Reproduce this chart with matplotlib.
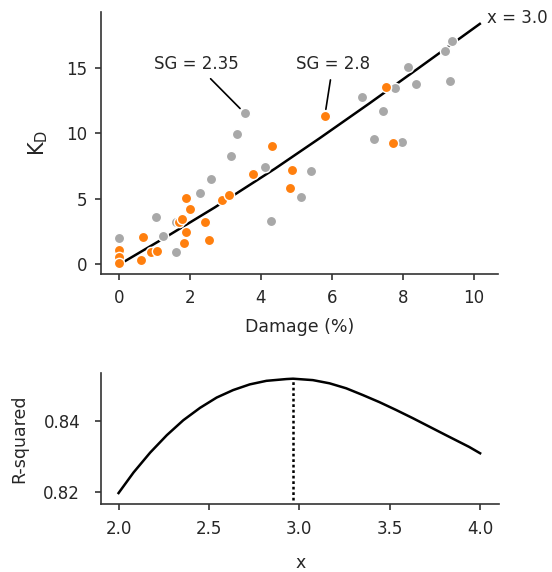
import numpy as np
import matplotlib
matplotlib.use("Agg")
import matplotlib.pyplot as plt

# specimen damage vs. K_D, split by specific gravity group
damage_grey = [0.0, 1.03, 1.23, 1.62, 1.62, 2.28, 2.58, 3.17, 3.34, 3.55, 4.11, 4.29,
               5.13, 5.42, 6.86, 7.19, 7.45, 7.77, 7.99, 8.15, 8.38, 9.20, 9.33, 9.39]
kd_grey = [1.96, 3.61, 2.11, 0.92, 3.23, 5.42, 6.51, 8.26, 9.97, 11.52, 7.45, 3.31,
           5.09, 7.09, 12.81, 9.53, 11.70, 13.50, 9.33, 15.08, 13.78, 16.30, 13.98, 17.03]

damage_orange = [0.0, 0.0, 0.0, 0.69, 0.62, 0.89, 1.06, 1.70, 1.78, 1.89, 2.00, 1.89,
                 1.83, 2.42, 2.54, 2.89, 3.11, 3.77, 4.30, 4.82, 4.87, 5.80, 7.53, 7.71]
kd_orange = [1.04, 0.51, 0.10, 2.06, 0.31, 0.89, 0.99, 3.25, 3.42, 5.03, 4.20, 2.44,
             1.60, 3.20, 1.86, 4.93, 5.29, 6.89, 9.03, 5.85, 7.17, 11.31, 13.55, 9.23]

# fitted curve for exponent x = 3.0
fit_damage = [0.17, 1.34, 2.70, 4.40, 5.66, 7.07, 8.39, 10.17]
fit_kd = [0.22, 2.09, 4.33, 7.30, 9.63, 12.31, 14.88, 18.37]

# goodness of fit against exponent
exponent = [2.0, 2.083, 2.175, 2.267, 2.358, 2.451, 2.543, 2.634, 2.726, 2.818, 2.929,
            2.965, 3.075, 3.167, 3.259, 3.351, 3.443, 3.535, 3.627, 3.719, 3.811, 3.939, 4.0]
r_squared = [0.8197, 0.8255, 0.8311, 0.8360, 0.8402, 0.8437, 0.8466, 0.8487, 0.8503, 0.8513, 0.8518,
             0.8519, 0.8515, 0.8506, 0.8492, 0.8473, 0.8453, 0.8431, 0.8408, 0.8384, 0.8360, 0.8327, 0.8309]

GREY = "#a8a8a8"
ORANGE = "#ff7f0e"
INK = "#262626"

plt.rcParams.update({
    "font.family": "DejaVu Sans",
    "font.size": 12,
    "axes.edgecolor": "#333333",
    "axes.linewidth": 1.2,
    "xtick.color": "#333333",
    "ytick.color": "#333333",
    "xtick.labelcolor": INK,
    "ytick.labelcolor": INK,
    "xtick.major.size": 4,
    "ytick.major.size": 4,
    "xtick.major.width": 1.2,
    "ytick.major.width": 1.2,
    "xtick.labelsize": 12,
    "ytick.labelsize": 12,
})

fig = plt.figure(figsize=(5.52, 5.72), dpi=100)

ax = fig.add_axes([0.183, 0.521, 0.719, 0.4585])
ax.plot(fit_damage, fit_kd, color="black", lw=1.8, zorder=2)
ax.scatter(damage_grey, kd_grey, s=55, color=GREY, edgecolor="white", linewidth=1, zorder=3)
ax.scatter(damage_orange, kd_orange, s=55, color=ORANGE, edgecolor="white", linewidth=1, zorder=4)

ax.annotate("SG = 2.35", xy=(3.55, 11.52), xytext=(2.17, 15.3),
            ha="center", va="center", fontsize=12, color=INK,
            arrowprops=dict(arrowstyle="-", color="black", lw=1.2, shrinkA=3, shrinkB=5))
ax.annotate("SG = 2.8", xy=(5.80, 11.31), xytext=(6.03, 15.3),
            ha="center", va="center", fontsize=12, color=INK,
            arrowprops=dict(arrowstyle="-", color="black", lw=1.2, shrinkA=3, shrinkB=5))
ax.text(10.37, 18.85, "x = 3.0", ha="left", va="center", fontsize=12, color=INK, clip_on=False)

ax.set_xlim(-0.507, 10.68)
ax.set_ylim(-0.765, 19.3)
ax.set_xticks([0, 2, 4, 6, 8, 10])
ax.set_yticks([0, 5, 10, 15])
ax.tick_params(axis="x", pad=6.5)
ax.tick_params(axis="y", pad=5.8)
ax.set_xlabel("Damage (%)", fontsize=12.5, color=INK, labelpad=8)
ax.set_ylabel("K$_\\mathrm{D}$", fontsize=15, color=INK, labelpad=12)
for side in ("top", "right"):
    ax.spines[side].set_visible(False)

bx = fig.add_axes([0.183, 0.1184, 0.7215, 0.2296])
bx.plot(exponent, r_squared, color="black", lw=1.8)
best = int(np.argmax(r_squared))
bx.vlines(exponent[best], 0.8178, r_squared[best], colors="black", linestyles=(0, (1.1, 1.1)), lw=1.8)
bx.set_xlim(1.903, 4.106)
bx.set_ylim(0.81654, 0.85352)
bx.set_xticks([2.0, 2.5, 3.0, 3.5, 4.0])
bx.set_yticks([0.82, 0.84])
bx.tick_params(axis="x", pad=7)
bx.tick_params(axis="y", pad=11)
bx.set_xlabel("x", fontsize=12.5, color=INK, labelpad=11.5)
bx.set_ylabel("R-squared", fontsize=12.5, color=INK, labelpad=11)
for side in ("top", "right"):
    bx.spines[side].set_visible(False)

fig.savefig("out.png", dpi=100)
